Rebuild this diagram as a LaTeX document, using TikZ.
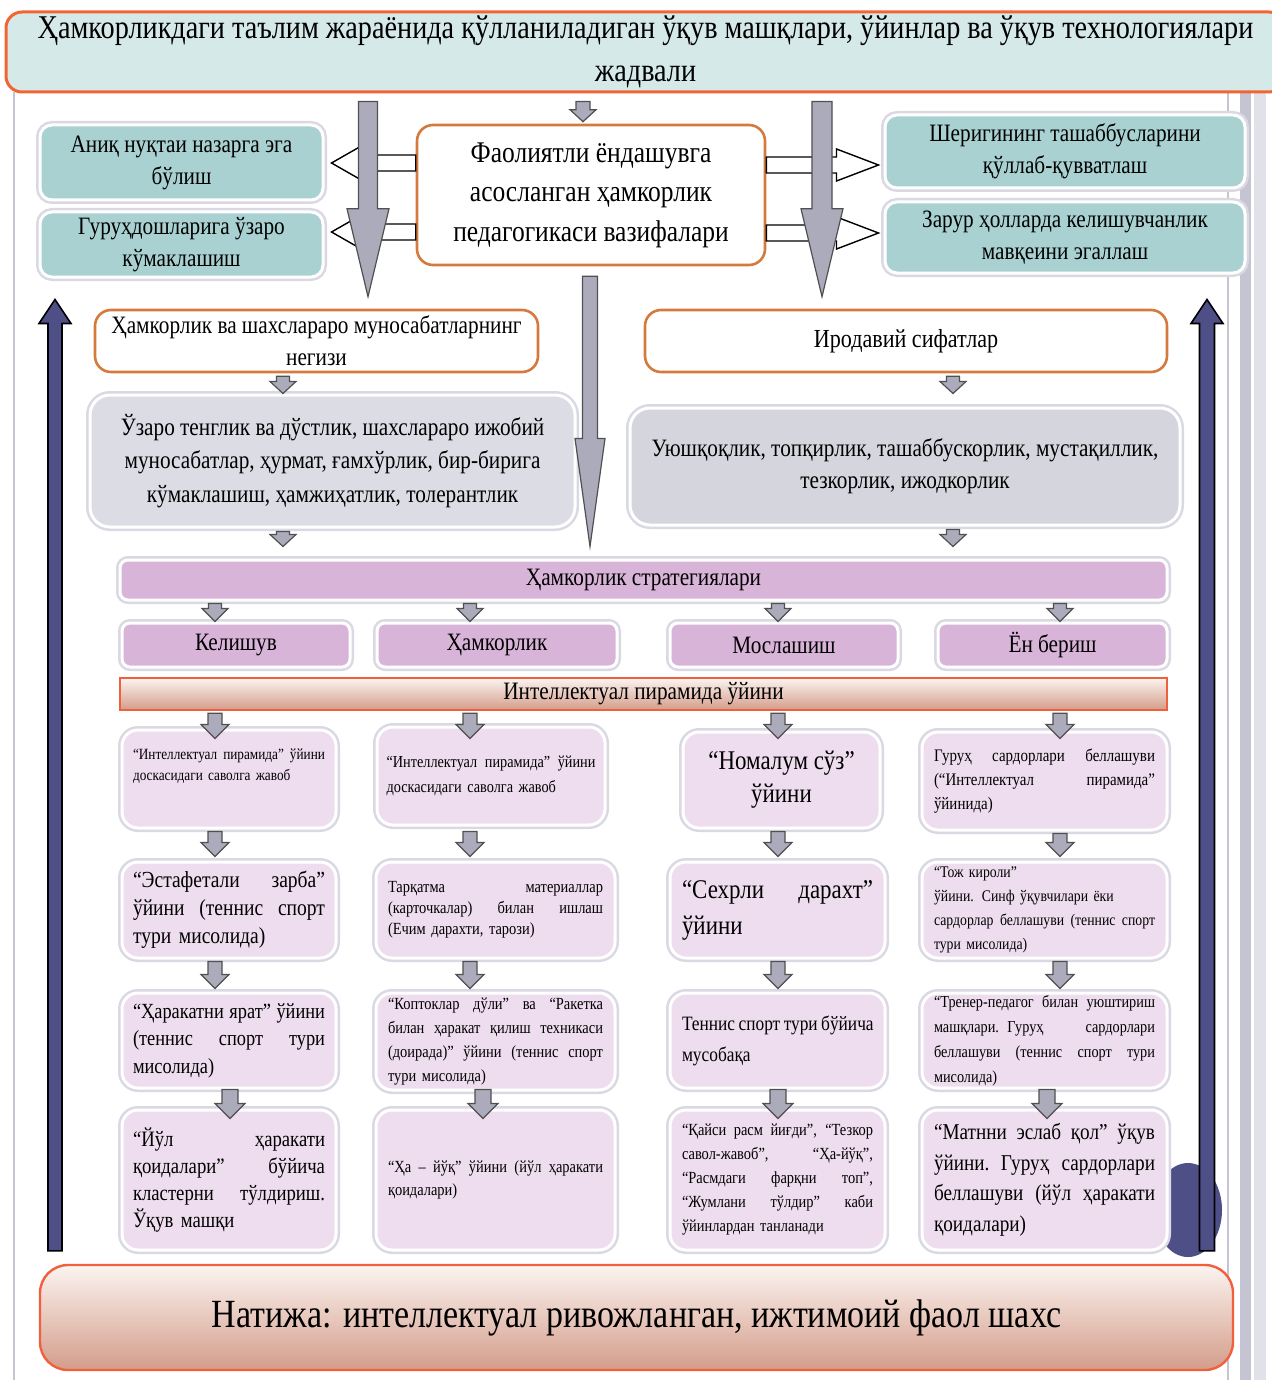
\documentclass[tikz,border=0pt]{standalone}
\usepackage{fontspec}
\setmainfont{Liberation Serif}[FakeStretch=0.85]
\usetikzlibrary{calc}
\definecolor{tealc}{HTML}{A9D1D1}
\definecolor{titlec}{HTML}{D6E9E9}
\definecolor{orangeb}{HTML}{D47A3C}
\definecolor{redb}{HTML}{F0603C}
\definecolor{greyl}{HTML}{DCDCE5}
\definecolor{greyr}{HTML}{D5D5DD}
\definecolor{purpc}{HTML}{D9B4D9}
\definecolor{pinkc}{HTML}{EEDDEE}
\definecolor{arrfill}{HTML}{ABABBB}
\definecolor{arrline}{HTML}{505050}
\definecolor{navyc}{HTML}{4F4F87}
\definecolor{peachT}{HTML}{FBF4F0}
\definecolor{peachB}{HTML}{D49C8A}
\definecolor{glowc}{HTML}{DAD8E2}
\definecolor{framec}{HTML}{C4C4D2}
\newcommand\fsz[2]{\fontsize{#1}{#2}\selectfont}
\newcommand\jline[1]{\leavevmode\hbox to\hsize{\spaceskip=0.25em plus 4em minus 0.08em\relax #1}\\}
% box: name, style, x1, y1, x2, y2, text  (pixel units)
\newcommand\bx[7]{\node[#2, minimum width={(#5-#3)*0.5pt}, minimum height={(#6-#4)*0.5pt}] (#1) at ({(#3+#5)/2},{(#4+#6)/2}) {#7};}
% downward block arrow between two nodes: from, to, x, start offset, end offset, shaft half, head half, head length, style
\newcommand\vblk[9]{%
 \path[#9] let \p1=(#1.south), \p2=(#2.north),
   \n1={\y1-(#4)*0.5pt}, \n2={\y2-(#5)*0.5pt}, \n3={\y2-(#5)*0.5pt+(#8)*0.5pt},
   \n4={(#3)*0.5pt}, \n5={(#6)*0.5pt}, \n6={(#7)*0.5pt}
 in (\n4-\n5,\n1) -- (\n4+\n5,\n1) -- (\n4+\n5,\n3) -- (\n4+\n6,\n3) -- (\n4,\n2) -- (\n4-\n6,\n3) -- (\n4-\n5,\n3) -- cycle;}
% upward block arrow
\newcommand\vup[9]{%
 \path[#9] let \p1=(#1.north), \p2=(#2.south),
   \n1={\y1+(#4)*0.5pt}, \n2={\y2-(#5)*0.5pt}, \n3={\y2-(#5)*0.5pt-(#8)*0.5pt},
   \n4={(#3)*0.5pt}, \n5={(#6)*0.5pt}, \n6={(#7)*0.5pt}
 in (\n4-\n5,\n1) -- (\n4+\n5,\n1) -- (\n4+\n5,\n3) -- (\n4+\n6,\n3) -- (\n4,\n2) -- (\n4-\n6,\n3) -- (\n4-\n5,\n3) -- cycle;}
% horizontal block arrow: from anchor, to anchor, y, tip offset, dir, shaft half, head half, head length, style
\newcommand\hblk[9]{%
 \path[#9] let \p1=(#1), \p2=(#2),
   \n1={\x2+(#4)*0.5pt}, \n2={\x2+(#4)*0.5pt-(#5)*(#8)*0.5pt}, \n3={-(#3)*0.5pt},
   \n5={(#6)*0.5pt}, \n6={(#7)*0.5pt}
 in (\x1,\n3-\n5) -- (\n2,\n3-\n5) -- (\n2,\n3-\n6) -- (\n1,\n3) -- (\n2,\n3+\n6) -- (\n2,\n3+\n5) -- (\x1,\n3+\n5) -- cycle;}
\tikzset{
 glow/.style={preaction={draw=glowc,line width=4pt}, draw=white, line width=1.5pt},
 tealbox/.style={glow, rounded corners=6pt, fill=tealc, align=center, inner sep=0pt},
 obox/.style={draw=orangeb, line width=1.3pt, fill=white, rounded corners=8pt, align=center, inner sep=0pt},
 greybox/.style={glow, rounded corners=10pt, align=center, inner sep=0pt},
 purpbox/.style={glow, rounded corners=4pt, fill=purpc, align=center, inner sep=0pt, font={\fsz{12.5}{15}}},
 pinkbox/.style={glow, rounded corners=8pt, fill=pinkc, inner sep=0pt, align=left},
 peachbox/.style={draw=redb, line width=1.2pt, top color=peachT, bottom color=peachB, inner sep=0pt, align=center},
 garrow/.style={fill=arrfill, draw=arrline, line width=0.6pt},
 navyarr/.style={fill=navyc, draw=black, line width=0.8pt},
 oarrow/.style={fill=white, draw=black, line width=0.7pt},
}
\begin{document}
\begin{tikzpicture}[x=0.5pt,y=-0.5pt]
\useasboundingbox (0,0) rectangle (1271,1380);
% page frame
\draw[framec, line width=1pt] (14,92) -- (14,1380);
\draw[framec, line width=0.8pt] (1228,92) -- (1228,1380);
\fill[framec] (1240,92) rectangle (1251,1380);
\fill[framec!50] (1254,92) rectangle (1266,1380);
% title
\bx{title}{draw=redb!85!orange, line width=1.5pt, fill=titlec, rounded corners=8pt, align=center, inner sep=0pt, font={\fsz{16.6}{21.5}}}{6}{12}{1285}{92}{Ҳамкорликдаги таълим жараёнида қўлланиладиган ўқув машқлари, ўйинлар ва ўқув технологиялари\\жадвали}
% upper section
\bx{ctr}{obox, font={\fsz{15}{19.75}}}{417}{125}{765}{265}{Фаолиятли ёндашувга\\асосланган ҳамкорлик\\педагогикаси вазифалари}
\bx{tL1}{tealbox, font={\fsz{12.5}{16}}}{40}{125}{323}{200}{Аниқ нуқтаи назарга эга\\бўлиш}
\bx{tL2}{tealbox, font={\fsz{12.5}{16}}}{40}{212}{323}{277}{Гуруҳдошларига ўзаро\\кўмаклашиш}
\bx{tR1}{tealbox, font={\fsz{12.5}{16}}}{885}{115}{1245}{188}{Шеригининг ташаббусларини\\қўллаб-қувватлаш}
\bx{tR2}{tealbox, font={\fsz{12.5}{16}}}{885}{202}{1245}{273}{Зарур ҳолларда келишувчанлик\\мавқеини эгаллаш}
\bx{oL}{obox, font={\fsz{12.5}{16}}}{95}{310}{538}{372}{Ҳамкорлик ва шахслараро муносабатларнинг\\негизи}
\bx{oR}{obox, font={\fsz{13}{16}}}{645}{310}{1167}{372}{Иродавий сифатлар}
\bx{gL}{greybox, fill=greyl, font={\fsz{12.5}{16.75}}}{90}{395}{575}{527}{Ўзаро тенглик ва дўстлик, шахслараро ижобий\\муносабатлар, ҳурмат, ғамхўрлик, бир-бирига\\кўмаклашиш, ҳамжиҳатлик, толерантлик}
\bx{gR}{greybox, fill=greyr, font={\fsz{12.5}{16}}}{630}{408}{1180}{525}{Уюшқоқлик, топқирлик, ташаббускорлик, мустақиллик,\\тезкорлик, ижодкорлик}
% strategies
\bx{strat}{purpbox}{120}{560}{1167}{600}{Ҳамкорлик стратегиялари}
\bx{s1}{purpbox}{122}{623}{350}{667}{Келишув}
\bx{s2}{purpbox}{377}{623}{617}{667}{Ҳамкорлик}
\bx{s3}{purpbox}{670}{623}{898}{667}{Мослашиш}
\bx{s4}{purpbox}{938}{623}{1167}{667}{Ён бериш}
\bx{pyr}{peachbox, font={\fsz{12.5}{15}}}{120}{678}{1167}{710}{Интеллектуал пирамида ўйини}
% blob behind last box
\fill[navyc] (1188,1210) ellipse [x radius=17pt, y radius=23.5pt];
% grid row 1
\bx{r1c1}{pinkbox, text width=96pt, font={\fsz{7.8}{10.5}}}{122}{730}{336}{828}{\jline{“Интеллектуал пирамида” ўйини}доскасидаги саволга жавоб\\[3.5pt]\mbox{}}
\bx{r1c2}{pinkbox, text width=104.5pt, font={\fsz{8.4}{12.5}}}{377}{727}{605}{825}{\jline{“Интеллектуал пирамида” ўйини}доскасидаги саволга жавоб}
\bx{r1c3}{pinkbox, align=center, font={\fsz{13.5}{16.5}}}{683}{732}{880}{828}{“Номалум сўз”\\ўйини}
\bx{r1c4}{pinkbox, text width=110.5pt, font={\fsz{8.8}{12}}}{922}{732}{1167}{830}{\jline{Гуруҳ сардорлари беллашуви}\jline{(“Интеллектуал пирамида”}ўйинида)}
% row 2
\bx{r2c1}{pinkbox, text width=96pt, font={\fsz{11.5}{14}}}{122}{862}{336}{958}{\jline{“Эстафетали зарба”}\jline{ўйини (теннис спорт}тури мисолида)}
\bx{r2c2}{pinkbox, text width=107.5pt, font={\fsz{8.5}{10.5}}}{376}{862}{615}{958}{\jline{Тарқатма материаллар}\jline{(карточкалар) билан ишлаш}(Ечим дарахти, тарози)}
\bx{r2c3}{pinkbox, text width=95.5pt, font={\fsz{13.5}{18}}}{670}{862}{885}{958}{\jline{“Сехрли дарахт”}ўйини}
\bx{r2c4}{pinkbox, text width=110.5pt, font={\fsz{8.1}{12}}}{922}{862}{1167}{958}{“Тож кироли”\\ўйини. Синф ўқувчилари ёки\\\jline{сардорлар беллашуви (теннис спорт}тури мисолида)}
% row 3
\bx{r3c1}{pinkbox, text width=96pt, font={\fsz{10.8}{13.75}}}{122}{993}{336}{1088}{\jline{“Ҳаракатни ярат” ўйини}\jline{(теннис спорт тури}мисолида)}
\bx{r3c2}{pinkbox, text width=107.5pt, font={\fsz{8.5}{12}}}{376}{993}{615}{1090}{\jline{“Коптоклар дўли” ва “Ракетка}\jline{билан ҳаракат қилиш техникаси}\jline{(доирада)” ўйини (теннис спорт}тури мисолида)}
\bx{r3c3}{pinkbox, text width=95.5pt, font={\fsz{10.2}{15.5}}}{670}{993}{885}{1088}{\jline{Теннис спорт тури бўйича}мусобақа}
\bx{r3c4}{pinkbox, text width=110.5pt, font={\fsz{8.4}{12.5}}}{922}{993}{1167}{1088}{\jline{“Тренер-педагог билан уюштириш}\jline{машқлари. Гуруҳ сардорлари}\jline{беллашуви (теннис спорт тури}мисолида)}
% row 4
\bx{r4c1}{pinkbox, text width=96pt, font={\fsz{11}{13.5}}}{122}{1110}{336}{1250}{\jline{“Йўл ҳаракати}\jline{қоидалари” бўйича}\jline{кластерни тўлдириш.}Ўқув машқи}
\bx{r4c2}{pinkbox, text width=107.5pt, font={\fsz{8.5}{11.5}}}{376}{1110}{615}{1250}{\jline{“Ҳа – йўқ” ўйини (йўл ҳаракати}қоидалари)}
\bx{r4c3}{pinkbox, text width=95.5pt, font={\fsz{8.5}{12}}}{670}{1110}{885}{1250}{\jline{“Қайси расм йиғди”, “Тезкор}\jline{савол-жавоб”, “Ҳа-йўқ”,}\jline{“Расмдаги фарқни топ”,}\jline{“Жумлани тўлдир” каби}ўйинлардан танланади}
\bx{r4c4}{pinkbox, text width=110.5pt, font={\fsz{11.3}{15.25}}}{922}{1110}{1167}{1250}{\jline{“Матнни эслаб қол” ўқув}\jline{ўйини. Гуруҳ сардорлари}\jline{беллашуви (йўл ҳаракати}қоидалари)}
% result
\bx{nat}{peachbox, rounded corners=14pt, font={\fsz{20}{24}}}{40}{1265}{1233}{1370}{Натижа: интеллектуал ривожланган, ижтимоий фаол шахс}
% horizontal outlined arrows
\hblk{ctr.west}{tL1.east}{163}{7}{-1}{8}{16}{28}{oarrow}
\hblk{ctr.west}{tL2.east}{232}{7}{-1}{8}{16}{28}{oarrow}
\hblk{ctr.east}{tR1.west}{165}{-5}{1}{8}{16}{42}{oarrow}
\hblk{ctr.east}{tR2.west}{233}{-5}{1}{8}{16}{42}{oarrow}
% long grey arrows
\vblk{title}{ctr}{583}{8}{-2}{7}{13}{12}{garrow}
\vblk{title}{oL}{368}{8}{-12}{9.5}{21}{88}{garrow}
\vblk{title}{oR}{822}{8}{-12}{10}{21}{88}{garrow}
\vblk{ctr}{strat}{590}{10}{-12}{7.5}{15}{108}{garrow}
% small grey arrows
\vblk{oL}{gL}{283}{3}{0}{6.5}{13}{12}{garrow}
\vblk{gL}{strat}{283}{3}{-12}{6.5}{13}{12}{garrow}
\vblk{oR}{gR}{953}{3}{-13}{6.5}{13}{12}{garrow}
\vblk{gR}{strat}{953}{3}{-12}{6.5}{13}{12}{garrow}
\vblk{strat}{s1}{215}{2}{0}{6.5}{13}{13}{garrow}
\vblk{strat}{s2}{470}{2}{0}{6.5}{13}{13}{garrow}
\vblk{strat}{s3}{778}{2}{0}{6.5}{13}{13}{garrow}
\vblk{strat}{s4}{1060}{2}{0}{6.5}{13}{13}{garrow}
\vblk{pyr}{r1c1}{215}{2}{10}{7}{14}{14}{garrow}
\vblk{pyr}{r1c2}{470}{2}{13}{7}{14}{14}{garrow}
\vblk{pyr}{r1c3}{778}{2}{8}{7}{14}{14}{garrow}
\vblk{pyr}{r1c4}{1060}{2}{8}{7}{14}{14}{garrow}
\vblk{r1c1}{r2c1}{215}{2}{-4}{7}{14}{14}{garrow}
\vblk{r1c2}{r2c2}{470}{5}{-4}{7}{14}{14}{garrow}
\vblk{r1c3}{r2c3}{778}{2}{-4}{7}{14}{14}{garrow}
\vblk{r1c4}{r2c4}{1060}{2}{-4}{7}{14}{14}{garrow}
\vblk{r2c1}{r3c1}{215}{2}{-3}{7}{14}{14}{garrow}
\vblk{r2c2}{r3c2}{470}{2}{-3}{7}{14}{14}{garrow}
\vblk{r2c3}{r3c3}{778}{2}{-3}{7}{14}{14}{garrow}
\vblk{r2c4}{r3c4}{1060}{2}{-3}{7}{14}{14}{garrow}
\vblk{r3c1}{r4c1}{230}{0}{10}{8}{15}{15}{garrow}
\vblk{r3c2}{r4c2}{483}{-2}{10}{8}{15}{15}{garrow}
\vblk{r3c3}{r4c3}{778}{0}{10}{8}{15}{15}{garrow}
\vblk{r3c4}{r4c4}{1047}{0}{10}{8}{15}{15}{garrow}
% navy upward arrows
\vup{nat}{tL2}{55}{13}{21}{7}{16}{24}{navyarr}
\vup{nat}{tR2}{1207}{13}{25}{7.5}{16}{24}{navyarr}
\end{tikzpicture}
\end{document}
